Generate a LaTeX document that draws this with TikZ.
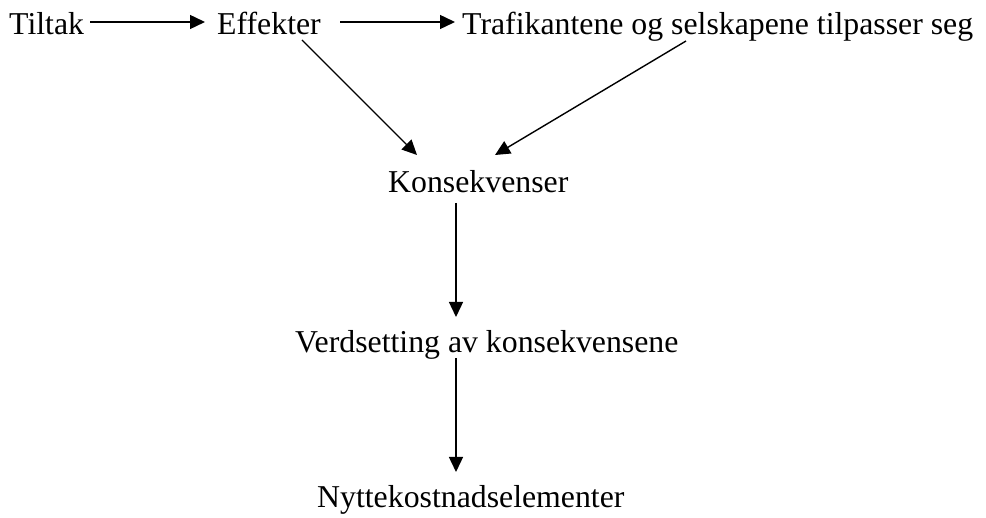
\documentclass[tikz,border=0pt]{standalone}
\usepackage{fontspec}
\setmainfont{Liberation Serif}
\usepackage{tikz}
\usetikzlibrary{arrows.meta}
\usetikzlibrary{calc}
\def\tsz{\fontsize{31.8}{38}\selectfont}

\begin{document}
\begin{tikzpicture}[x=1pt,y=1pt]
              \useasboundingbox (0,0) rectangle (986,-518); %ramme
              \tikzset{
                txt/.style={inner sep=0pt, anchor=base west, font=\tsz},
                pil/.style={line width=1.4pt, -{Triangle[length=15pt,width=14pt]}}
              }
              
              % oeverste rad
              \node[txt] (tiltak) at (9,-35) {Tiltak}; %tiltak
              \node[txt] (effekter) at (217,-35) {Effekter}; %effekter
              \node[txt] (tilpass) at (462,-35) {Trafikantene og selskapene tilpasser seg}; %tilpasning
              
              % kjeden nedover
              \node[txt] (konsekv) at (388,-193) {Konsekvenser}; %konsekvenser
              \node[txt] (verdsett) at (295,-353) {Verdsetting av konsekvensene}; %verdsetting
              \node[txt] (nytte) at (317,-508) {Nyttekostnadselementer}; %elementer
              
              \draw[pil] ($(tiltak.base west)+(81,13)$)--($(effekter.base west)+(-12,13)$); %tiltak -> effekter
              \draw[pil] ($(effekter.base west)+(123,13)$)--($(tilpass.base west)+(-7,13)$); %effekter -> tilpasning
              \draw[pil] ($(effekter.base west)+(85,-5)$)--($(konsekv.base west)+(29,38)$); %skraa venstre
              \draw[pil] ($(tilpass.base west)+(224,-6)$)--($(konsekv.base west)+(107,38)$); %skraa hoeyre
              \draw[pil] ($(konsekv.base west)+(68,-10)$)--($(verdsett.base west)+(161,36)$); %loddrett
              \draw[pil] ($(verdsett.base west)+(161,-5)$)--($(nytte.base west)+(139,36)$); %loddrett
  
            \end{tikzpicture}
\end{document}
